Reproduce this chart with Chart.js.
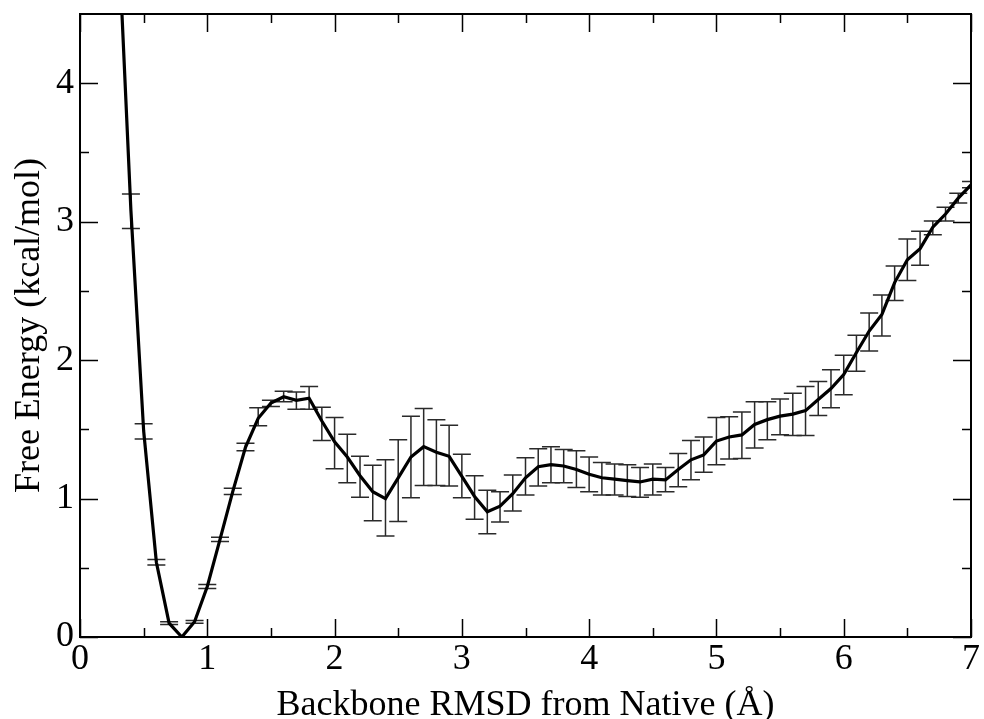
<!DOCTYPE html>
<html>
<head>
<meta charset="utf-8">
<title>Free Energy vs Backbone RMSD</title>
<script src="https://cdn.jsdelivr.net/npm/chart.js@4.4.1/dist/chart.umd.min.js"></script>
<style>
    html, body { margin: 0; padding: 0; background: #ffffff; }
    #wrap { width: 984px; height: 719px; }
</style>
</head>
<body>
<div id="wrap"><canvas id="feChart" width="984" height="719"></canvas></div>
<script>
// ====================================
// DATA
// ====================================

// Backbone RMSD from native (Angstrom)
const rmsd = [
    0.3, 0.4, 0.5, 0.6, 0.7, 0.8, 0.9, 1.0, 1.1, 1.2,
    1.3, 1.4, 1.5, 1.6, 1.7, 1.8, 1.9, 2.0, 2.1, 2.2,
    2.3, 2.4, 2.5, 2.6, 2.7, 2.8, 2.9, 3.0, 3.1, 3.2,
    3.3, 3.4, 3.5, 3.6, 3.7, 3.8, 3.9, 4.0, 4.1, 4.2,
    4.3, 4.4, 4.5, 4.6, 4.7, 4.8, 4.9, 5.0, 5.1, 5.2,
    5.3, 5.4, 5.5, 5.6, 5.7, 5.8, 5.9, 6.0, 6.1, 6.2,
    6.3, 6.4, 6.5, 6.6, 6.7, 6.8, 6.9, 7.0
];

// Free energy (kcal/mol)
const freeEnergy = [
    5.10, 3.08, 1.49, 0.54, 0.10, 0.00, 0.11, 0.365, 0.705, 1.05,
    1.37, 1.58, 1.69, 1.735, 1.71, 1.725, 1.56, 1.41, 1.30, 1.165,
    1.05, 1.00, 1.15, 1.30, 1.375, 1.335, 1.305, 1.16, 1.015, 0.905,
    0.945, 1.035, 1.15, 1.23, 1.245, 1.235, 1.21, 1.175, 1.15, 1.14,
    1.13, 1.12, 1.14, 1.135, 1.21, 1.28, 1.315, 1.415, 1.445, 1.46,
    1.535, 1.57, 1.595, 1.61, 1.635, 1.715, 1.795, 1.895, 2.055, 2.21,
    2.33, 2.56, 2.725, 2.805, 2.96, 3.055, 3.17, 3.265
];

// Error bar upper ends
const errHigh = [
    5.25, 3.20, 1.54, 0.56, 0.11, 0.00, 0.12, 0.38, 0.72, 1.075,
    1.40, 1.655, 1.71, 1.775, 1.77, 1.81, 1.66, 1.585, 1.465, 1.305,
    1.24, 1.28, 1.425, 1.595, 1.65, 1.57, 1.53, 1.32, 1.165, 1.06,
    1.05, 1.17, 1.295, 1.36, 1.375, 1.355, 1.345, 1.30, 1.26, 1.25,
    1.245, 1.225, 1.25, 1.225, 1.325, 1.42, 1.445, 1.585, 1.59, 1.625,
    1.70, 1.70, 1.72, 1.76, 1.81, 1.845, 1.93, 2.035, 2.18, 2.34,
    2.47, 2.68, 2.875, 2.93, 3.005, 3.105, 3.205, 3.29
];

// Error bar lower ends
const errLow = [
    4.95, 2.95, 1.43, 0.52, 0.09, 0.00, 0.10, 0.35, 0.69, 1.03,
    1.345, 1.525, 1.665, 1.70, 1.645, 1.645, 1.42, 1.215, 1.115, 1.01,
    0.84, 0.73, 0.835, 1.005, 1.095, 1.095, 1.09, 1.005, 0.85, 0.745,
    0.83, 0.91, 1.025, 1.09, 1.115, 1.115, 1.08, 1.05, 1.025, 1.025,
    1.015, 1.01, 1.025, 1.05, 1.085, 1.135, 1.19, 1.245, 1.285, 1.29,
    1.365, 1.425, 1.46, 1.455, 1.455, 1.60, 1.655, 1.75, 1.92, 2.065,
    2.175, 2.43, 2.575, 2.685, 2.905, 3.005, 3.135, 3.245
];

// Tick positions
const xMajorTicks = [0, 1, 2, 3, 4, 5, 6, 7];
const xMinorTicks = [0.5, 1.5, 2.5, 3.5, 4.5, 5.5, 6.5];
const yMajorTicks = [0, 1, 2, 3, 4];
const yMinorTicks = [0.5, 1.5, 2.5, 3.5];

// ====================================
// PLUGINS
// ====================================

const FONT_FAMILY = '"Liberation Serif", "Times New Roman", Times, serif';

// Error bars drawn under the line, through the chart's scales
const errorBarPlugin = {
    id: 'errorBars',
    beforeDatasetsDraw(chart) {
        const ctx = chart.ctx;
        const area = chart.chartArea;
        const xs = chart.scales.x;
        const ys = chart.scales.y;
        const cap = 9;

        ctx.save();
        ctx.beginPath();
        ctx.rect(area.left, area.top, area.right - area.left, area.bottom - area.top);
        ctx.clip();
        ctx.strokeStyle = '#2a2a2a';
        ctx.lineWidth = 1.5;

        for (let i = 0; i < rmsd.length; i++) {
            if (errHigh[i] - errLow[i] <= 0) continue;
            const px = xs.getPixelForValue(rmsd[i]);
            const pHi = ys.getPixelForValue(errHigh[i]);
            const pLo = ys.getPixelForValue(errLow[i]);
            ctx.beginPath();
            ctx.moveTo(px, pHi);
            ctx.lineTo(px, pLo);
            ctx.moveTo(px - cap, pHi);
            ctx.lineTo(px + cap, pHi);
            ctx.moveTo(px - cap, pLo);
            ctx.lineTo(px + cap, pLo);
            ctx.stroke();
        }
        ctx.restore();
    }
};

// Box frame with inward ticks on all four sides
const frameTicksPlugin = {
    id: 'frameTicks',
    afterDraw(chart) {
        const ctx = chart.ctx;
        const a = chart.chartArea;
        const xs = chart.scales.x;
        const ys = chart.scales.y;
        const major = 18;
        const minor = 9;

        ctx.save();
        ctx.strokeStyle = '#000000';
        ctx.lineWidth = 2;
        ctx.strokeRect(a.left, a.top, a.right - a.left, a.bottom - a.top);

        ctx.lineWidth = 1.5;
        ctx.beginPath();
        const xTick = (v, len) => {
            const px = Math.round(xs.getPixelForValue(v)) + 0.5;
            ctx.moveTo(px, a.bottom);
            ctx.lineTo(px, a.bottom - len);
            ctx.moveTo(px, a.top);
            ctx.lineTo(px, a.top + len);
        };
        const yTick = (v, len) => {
            const py = Math.round(ys.getPixelForValue(v)) + 0.5;
            ctx.moveTo(a.left, py);
            ctx.lineTo(a.left + len, py);
            ctx.moveTo(a.right, py);
            ctx.lineTo(a.right - len, py);
        };
        xMajorTicks.forEach(v => xTick(v, major));
        xMinorTicks.forEach(v => xTick(v, minor));
        yMajorTicks.forEach(v => yTick(v, major));
        yMinorTicks.forEach(v => yTick(v, minor));
        ctx.stroke();
        ctx.restore();
    }
};

// ====================================
// CHART
// ====================================

const points = rmsd.map((x, i) => ({ x: x, y: freeEnergy[i] }));

new Chart(document.getElementById('feChart'), {
    type: 'line',
    data: {
        datasets: [{
            label: 'Free Energy',
            data: points,
            borderColor: '#000000',
            borderWidth: 3.2,
            pointRadius: 0,
            tension: 0,
            fill: false
        }]
    },
    options: {
        responsive: false,
        animation: false,
        layout: {
            padding: { top: 14, right: 13, left: 0, bottom: 0 }
        },
        plugins: {
            legend: { display: false },
            tooltip: { enabled: false }
        },
        scales: {
            x: {
                type: 'linear',
                min: 0,
                max: 7,
                grid: { display: false, drawTicks: false },
                border: { display: false },
                afterBuildTicks: scale => {
                    scale.ticks = xMajorTicks.map(v => ({ value: v }));
                },
                afterFit: scale => {
                    scale.height = 82;
                    scale.paddingLeft = 0;
                    scale.paddingRight = 0;
                },
                ticks: {
                    color: '#000000',
                    padding: 1,
                    maxRotation: 0,
                    font: { family: FONT_FAMILY, size: 36 }
                },
                title: {
                    display: true,
                    text: 'Backbone RMSD from Native (Å)',
                    color: '#000000',
                    padding: { top: 0, bottom: 0 },
                    font: { family: FONT_FAMILY, size: 36, lineHeight: 0.75 }
                }
            },
            y: {
                min: 0,
                max: 4.5,
                grid: { display: false, drawTicks: false },
                border: { display: false },
                afterBuildTicks: scale => {
                    scale.ticks = yMajorTicks.map(v => ({ value: v }));
                },
                afterFit: scale => {
                    scale.width = 80;
                    scale.paddingTop = 0;
                    scale.paddingBottom = 0;
                },
                ticks: {
                    color: '#000000',
                    padding: 6,
                    font: { family: FONT_FAMILY, size: 36 }
                },
                title: {
                    display: true,
                    text: 'Free Energy (kcal/mol)',
                    color: '#000000',
                    padding: { top: 8, bottom: 0 },
                    font: { family: FONT_FAMILY, size: 36 }
                }
            }
        }
    },
    plugins: [errorBarPlugin, frameTicksPlugin]
});
</script>
</body>
</html>
